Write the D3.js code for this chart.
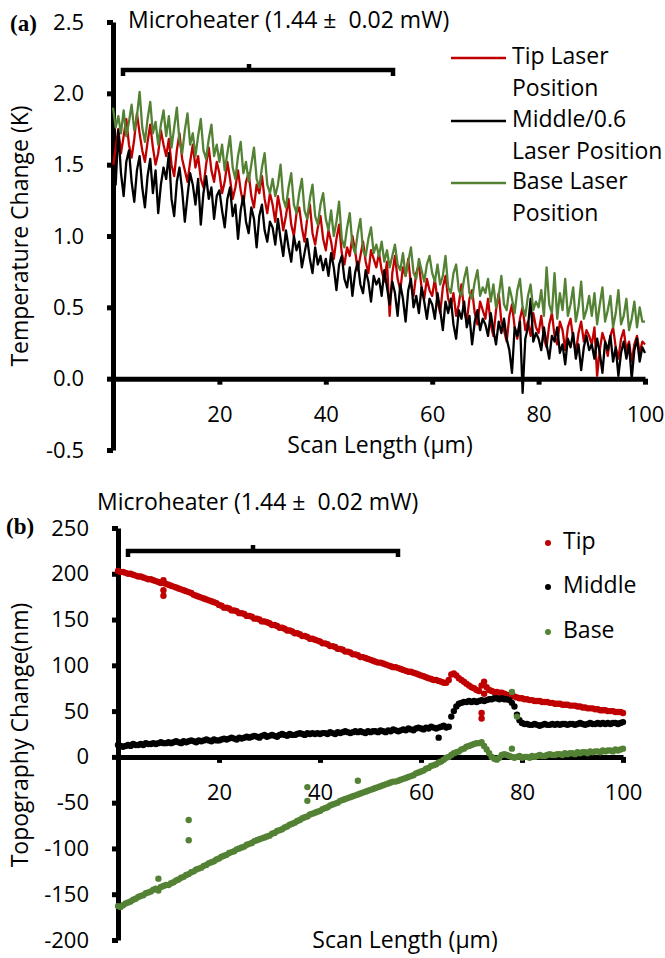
<!DOCTYPE html>
<html lang="en">
<head>
<meta charset="utf-8">
<title>Microheater scan - temperature and topography change</title>
<script src="https://cdn.jsdelivr.net/npm/d3@7"></script>
<style>
  body { margin: 0; background: #fff; }
  svg { font-family: "Open Sans", "Noto Sans", sans-serif; }
  .axis path, .axis line { stroke: #000; stroke-width: 5; }
  .axis text { font-family: "Open Sans", "Noto Sans", sans-serif; font-size: 22px; fill: #000; }
  .label { font-size: 23px; fill: #000; }
  .panel-tag { font-family: "Liberation Serif", "Times New Roman", serif; font-weight: bold; font-size: 23px; }
</style>
</head>
<body>
<div id="container"></div>
<script>
// tick labels
var scanTicks = [20, 40, 60, 80, 100];
var tempTicks = [-0.5, 0, 0.5, 1.0, 1.5, 2.0, 2.5];
var topoTicks = [-200, -150, -100, -50, 0, 50, 100, 150, 200, 250];

// (a) temperature change (K), sampled evenly over 0..100 um
var tipTemp = [
  1.48, 1.62, 1.75, 1.58, 1.70, 1.82, 1.64, 1.55, 1.68, 1.86, 1.72, 1.60, 1.52, 1.66, 1.78, 1.62, 1.50, 1.58, 1.74, 1.64,
  1.56, 1.68, 1.50, 1.42, 1.60, 1.72, 1.54, 1.46, 1.38, 1.52, 1.64, 1.48, 1.56, 1.40, 1.34, 1.50, 1.62, 1.46, 1.38, 1.52,
  1.44, 1.30, 1.38, 1.52, 1.40, 1.26, 1.34, 1.46, 1.32, 1.22, 1.38, 1.44, 1.28, 1.20, 1.36, 1.30, 1.42, 1.26, 1.16, 1.30,
  1.22, 1.10, 1.28, 1.18, 1.04, 1.14, 1.26, 1.08, 1.00, 1.16, 1.20, 1.06, 0.96, 1.12, 1.22, 1.02, 0.94, 1.06, 1.14, 0.98,
  0.90, 1.04, 0.96, 0.84, 0.98, 1.08, 0.88, 0.80, 0.92, 0.86, 1.00, 0.90, 0.76, 0.86, 0.96, 0.82, 0.74, 0.90, 0.84, 0.78,
  0.88, 0.76, 0.68, 0.82, 0.44, 0.74, 0.86, 0.70, 0.62, 0.78, 0.72, 0.84, 0.66, 0.58, 0.74, 0.80, 0.64, 0.56, 0.70, 0.62,
  0.58, 0.70, 0.54, 0.46, 0.64, 0.72, 0.56, 0.50, 0.60, 0.44, 0.52, 0.66, 0.48, 0.40, 0.56, 0.62, 0.46, 0.38, 0.54, 0.48,
  0.42, 0.56, 0.38, 0.30, 0.48, 0.60, 0.40, 0.34, 0.26, 0.44, 0.52, 0.36, 0.28, 0.42, 0.50, 0.34, 0.40, 0.30, 0.46, 0.36,
  0.32, 0.44, 0.28, 0.22, 0.38, 0.46, 0.30, 0.24, 0.40, 0.34, 0.20, 0.36, 0.42, 0.28, 0.18, 0.32, 0.40, 0.26, 0.34, 0.30,
  0.24, 0.36, 0.02, 0.20, 0.32, 0.26, 0.16, 0.30, 0.36, 0.22, 0.14, 0.28, 0.34, 0.20, 0.26, 0.12, 0.24, 0.30, 0.18, 0.26,
  0.24
];
var middleTemp = [
  1.50, 1.36, 1.74, 1.44, 1.28, 1.52, 1.60, 1.38, 1.24, 1.46, 1.56, 1.34, 1.20, 1.42, 1.54, 1.30, 1.46, 1.16, 1.36, 1.48,
  1.40, 1.58, 1.26, 1.14, 1.38, 1.48, 1.32, 1.10, 1.28, 1.44, 1.36, 1.22, 1.40, 1.08, 1.30, 1.42, 1.26, 1.34, 1.12, 1.28,
  1.32, 1.18, 1.06, 1.26, 1.34, 1.14, 1.22, 0.98, 1.18, 1.28, 1.10, 1.02, 1.20, 1.12, 0.92, 1.14, 1.22, 1.04, 0.96, 1.10,
  1.06, 0.94, 1.12, 0.98, 0.86, 1.04, 0.92, 0.82, 1.00, 0.90, 0.96, 0.78, 0.88, 0.98, 0.84, 0.74, 0.92, 0.80, 0.86, 0.76,
  0.84, 0.72, 0.88, 0.78, 0.62, 0.80, 0.86, 0.70, 0.64, 0.78, 0.58, 0.74, 0.82, 0.66, 0.60, 0.76, 0.68, 0.54, 0.72, 0.66,
  0.70, 0.58, 0.76, 0.64, 0.52, 0.68, 0.60, 0.44, 0.66, 0.56, 0.40, 0.62, 0.70, 0.50, 0.58, 0.46, 0.64, 0.54, 0.42, 0.56,
  0.52, 0.42, 0.60, 0.48, 0.34, 0.54, 0.46, 0.56, 0.38, 0.28, 0.48, 0.42, 0.54, 0.36, 0.44, 0.24, 0.40, 0.48, 0.34, 0.42,
  0.38, 0.30, 0.46, 0.34, 0.24, 0.40, 0.32, 0.42, 0.28, 0.20, 0.04, 0.36, 0.30, 0.40, -0.10, 0.28, 0.36, 0.56, 0.26, 0.32,
  0.28, 0.20, 0.36, 0.24, 0.14, 0.30, 0.26, 0.36, 0.18, 0.24, 0.10, 0.28, 0.22, 0.32, 0.14, 0.24, 0.06, 0.22, 0.30, 0.20,
  0.24, 0.14, 0.28, 0.18, 0.04, 0.26, 0.20, 0.30, 0.12, 0.22, 0.02, 0.18, 0.26, 0.14, 0.24, 0.00, 0.20, 0.28, 0.12, 0.22,
  0.18
];
var baseTemp = [
  1.90, 1.76, 1.84, 1.72, 1.88, 1.70, 1.80, 1.92, 1.74, 1.84, 2.01, 1.76, 1.66, 1.82, 1.94, 1.72, 1.80, 1.64, 1.78, 1.88,
  1.70, 1.84, 1.62, 1.76, 1.90, 1.66, 1.58, 1.74, 1.86, 1.64, 1.72, 1.56, 1.70, 1.82, 1.60, 1.54, 1.68, 1.78, 1.56, 1.64,
  1.52, 1.64, 1.46, 1.58, 1.70, 1.48, 1.40, 1.56, 1.66, 1.44, 1.52, 1.38, 1.50, 1.62, 1.40, 1.34, 1.48, 1.58, 1.36, 1.30,
  1.40, 1.28, 1.36, 1.50, 1.26, 1.20, 1.34, 1.44, 1.22, 1.16, 1.30, 1.40, 1.18, 1.12, 1.26, 1.36, 1.14, 1.08, 1.22, 1.30,
  1.12, 1.04, 1.18, 1.00, 1.10, 1.24, 0.98, 0.92, 1.06, 1.16, 0.94, 0.88, 1.02, 1.12, 0.90, 0.86, 0.98, 1.06, 0.88, 0.94,
  0.86, 0.96, 0.82, 0.90, 0.78, 0.86, 0.94, 0.80, 0.76, 0.88, 0.72, 0.82, 0.92, 0.74, 0.70, 0.84, 0.76, 0.68, 0.80, 0.86,
  0.74, 0.68, 0.80, 0.66, 0.72, 0.86, 0.64, 0.60, 0.74, 0.80, 0.62, 0.58, 0.70, 0.78, 0.60, 0.56, 0.68, 0.76, 0.58, 0.64,
  0.60, 0.70, 0.54, 0.66, 0.50, 0.58, 0.72, 0.52, 0.48, 0.64, 0.56, 0.46, 0.62, 0.70, 0.50, 0.44, 0.58, 0.66, 0.48, 0.54,
  0.50, 0.62, 0.44, 0.78, 0.52, 0.46, 0.74, 0.42, 0.60, 0.48, 0.70, 0.44, 0.52, 0.64, 0.40, 0.50, 0.68, 0.42, 0.48, 0.58,
  0.44, 0.60, 0.38, 0.52, 0.64, 0.40, 0.48, 0.58, 0.36, 0.46, 0.62, 0.38, 0.44, 0.56, 0.34, 0.42, 0.54, 0.36, 0.50, 0.40,
  0.40
];

// (b) topography change (nm), sampled evenly over 0..100 um
var tipTopo = [
  203, 202, 202, 201, 200, 200, 199, 198, 197, 197, 196, 195, 194, 194, 193, 192, 191, 190, 190, 189,
  188, 187, 186, 185, 184, 183, 182, 181, 180, 179, 177, 176, 175, 174, 173, 172, 171, 170, 169, 168,
  166, 165, 163, 163, 162, 160, 160, 159, 157, 157, 156, 154, 154, 153, 151, 151, 150, 148, 148, 147,
  146, 144, 144, 143, 141, 141, 140, 138, 138, 137, 135, 135, 134, 132, 132, 131, 129, 129, 128, 127,
  126, 124, 124, 123, 121, 121, 120, 118, 118, 117, 115, 115, 114, 112, 112, 111, 109, 109, 108, 107,
  106, 105, 104, 103, 103, 102, 101, 100, 99, 98, 98, 97, 96, 95, 94, 93, 93, 92, 91, 90,
  89, 88, 87, 86, 85, 84, 84, 83, 82, 81, 81, 84, 90, 91, 89, 86, 84, 82, 80, 78,
  76, 75, 73, 72, 78, 82, 76, 73, 72, 71, 71, 70, 70, 69, 68, 67, 67, 66, 65, 64,
  64, 63, 63, 62, 62, 61, 61, 61, 60, 60, 60, 59, 59, 58, 58, 58, 57, 57, 57, 56,
  56, 56, 55, 55, 54, 54, 53, 53, 53, 52, 52, 51, 51, 51, 50, 50, 50, 49, 49, 49,
  48
];
var middleTopo = [
  13, 12, 11, 12, 13, 12, 14, 13, 13, 14, 13, 15, 14, 14, 15, 14, 15, 16, 15, 15,
  16, 15, 16, 17, 16, 15, 17, 16, 17, 18, 17, 16, 18, 17, 18, 19, 18, 17, 19, 18,
  18, 19, 20, 19, 20, 21, 20, 19, 21, 20, 21, 22, 21, 22, 23, 22, 21, 23, 24, 22,
  23, 24, 23, 22, 24, 25, 24, 23, 25, 24, 24, 25, 26, 25, 24, 26, 25, 26, 25, 26,
  25, 26, 26, 25, 27, 26, 25, 27, 26, 27, 28, 27, 26, 27, 28, 27, 28, 27, 26, 28,
  27, 28, 28, 27, 29, 28, 27, 29, 28, 30, 29, 28, 29, 30, 29, 31, 30, 29, 31, 32,
  31, 30, 32, 31, 33, 32, 31, 32, 33, 34, 32, 33, 44, 50, 55, 58, 59, 60, 60, 61,
  60, 61, 60, 61, 62, 61, 62, 63, 63, 64, 64, 63, 64, 63, 63, 62, 59, 55, 46, 40,
  37, 36, 36, 35, 35, 36, 35, 34, 35, 36, 35, 35, 36, 35, 36, 35, 36, 36, 35, 36,
  36, 35, 36, 37, 36, 35, 36, 37, 36, 36, 37, 36, 37, 36, 37, 36, 37, 37, 36, 37,
  38
];
var baseTopo = [
  -163, -164, -162, -160, -159, -158, -156, -155, -153, -152, -151, -149, -148, -147, -145, -144, -146, -142, -141, -140,
  -140, -138, -137, -135, -134, -132, -131, -129, -128, -126, -125, -123, -122, -121, -119, -118, -116, -115, -114, -112,
  -111, -109, -108, -107, -105, -104, -103, -101, -100, -99, -98, -96, -95, -94, -92, -91, -90, -89, -88, -87,
  -86, -84, -83, -81, -80, -79, -77, -76, -74, -73, -72, -70, -69, -67, -66, -65, -63, -62, -61, -60,
  -59, -57, -56, -55, -53, -52, -51, -50, -48, -47, -46, -45, -44, -43, -42, -41, -40, -39, -38, -37,
  -36, -35, -34, -33, -32, -31, -30, -29, -28, -27, -27, -26, -25, -24, -23, -22, -21, -20, -18, -17,
  -16, -15, -13, -12, -10, -9, -8, -6, -5, -3, -1, 0, 2, 4, 5, 6, 8, 9, 11, 12,
  13, 14, 15, 15, 16, 12, 8, 4, 0, -2, -3, -1, 2, 3, 2, 1, 0, -1, 0, 1,
  -1, 0, 0, -1, 1, 0, 1, 2, 1, 1, 2, 3, 2, 2, 3, 3, 2, 4, 3, 4,
  4, 3, 5, 4, 5, 5, 4, 6, 5, 6, 6, 5, 7, 6, 7, 7, 6, 8, 7, 8,
  9
];
// stray points [scan um, nm]
var tipStray = [[9, 193], [9, 182], [9, 176], [72.5, 69], [72, 48], [72, 42]];
var middleStray = [[63.5, 21]];
var baseStray = [[8, -133], [14, -69], [14, -91], [37.5, -33], [37.5, -48], [47.5, -26], [78, 71], [79, 44], [78, 9]];

var seriesNamesA = ["Tip Laser|Position", "Middle/0.6|Laser Position", "Base Laser|Position"];
var seriesNamesB = ["Tip", "Middle", "Base"];
var colors = ["#c00000", "#000000", "#548235"];

var width = 665, height = 958;

var svg = d3.select("#container")
  .append("svg")
    .attr("width", width)
    .attr("height", height);

function toPoints(vals) {
  return vals.map(function(v, i) { return [i * 100 / (vals.length - 1), v]; });
}

function drawAxes(x, y, ticks, fmt) {
  svg.append("g")
      .attr("class", "axis")
      .attr("transform", "translate(0," + y(0) + ")")
      .call(d3.axisBottom(x).tickValues(scanTicks).tickSize(6).tickSizeOuter(0).tickPadding(22));

  svg.append("g")
      .attr("class", "axis")
      .attr("transform", "translate(" + x(0) + ",0)")
      .call(d3.axisLeft(y).tickValues(ticks).tickSize(6).tickSizeOuter(0).tickPadding(23).tickFormat(fmt));
}

function bracket(x1, x2, xm, yy) {
  svg.append("path")
    .attr("d", "M" + x1 + "," + (yy + 6) + "V" + yy + "H" + x2 + "V" + (yy + 6) + "M" + xm + "," + yy + "V" + (yy - 6))
    .attr("fill", "none")
    .attr("stroke", "#000")
    .attr("stroke-width", 4.5);
}

function text(x, y, s, cls) {
  return svg.append("text")
    .attr("class", cls || "label")
    .attr("x", x).attr("y", y)
    .text(s);
}

// ---------- panel (a) ----------
var xa = d3.scaleLinear().domain([0, 100]).range([113, 645]);
var ya = d3.scaleLinear().domain([-0.5, 2.5]).range([450, 22]);

drawAxes(xa, ya, tempTicks, function(d) { return d.toFixed(1); });

var lineA = d3.line()
  .x(function(d) { return xa(d[0]); })
  .y(function(d) { return ya(d[1]); });

[tipTemp, middleTemp, baseTemp].forEach(function(s, i) {
  svg.append("path")
    .datum(toPoints(s))
    .attr("d", lineA)
    .attr("fill", "none")
    .attr("stroke", colors[i])
    .attr("stroke-width", 2.3)
    .attr("stroke-linejoin", "round");
});

text(10, 31, "(a)", "panel-tag");
text(128, 28, "Microheater (1.44 \u00b1  0.02 mW)").attr("xml:space", "preserve");
bracket(123, 393, 249, 70);

svg.append("text").attr("class", "label")
  .attr("transform", "translate(22,236) rotate(-90)")
  .attr("text-anchor", "middle").attr("dominant-baseline", "middle")
  .text("Temperature Change (K)");
text(380, 447, "Scan Length (\u00b5m)").attr("text-anchor", "middle").attr("dominant-baseline", "middle");

// legend (a)
var legA = [58, 121, 183];
seriesNamesA.forEach(function(n, i) {
  svg.append("line")
    .attr("x1", 451).attr("x2", 506)
    .attr("y1", legA[i]).attr("y2", legA[i])
    .attr("stroke", colors[i]).attr("stroke-width", 2.5);
  n.split("|").forEach(function(part, j) {
    text(512, legA[i] + j * 32, part).attr("dominant-baseline", "middle");
  });
});

// ---------- panel (b) ----------
var xb = d3.scaleLinear().domain([0, 100]).range([118, 623]);
var yb = d3.scaleLinear().domain([-200, 250]).range([940, 528]);

drawAxes(xb, yb, topoTicks, function(d) { return String(d); });

[[tipTopo, tipStray], [middleTopo, middleStray], [baseTopo, baseStray]].forEach(function(s, i) {
  var pts = toPoints(s[0]).concat(s[1]);
  svg.append("g").selectAll("circle")
    .data(pts)
    .enter().append("circle")
      .attr("cx", function(d) { return xb(d[0]); })
      .attr("cy", function(d) { return yb(d[1]); })
      .attr("r", 3.2)
      .attr("fill", colors[i]);
});

text(6, 534, "(b)", "panel-tag");
text(97, 510, "Microheater (1.44 \u00b1  0.02 mW)").attr("xml:space", "preserve");
bracket(128, 398, 253, 551);

svg.append("text").attr("class", "label")
  .attr("transform", "translate(22,735) rotate(-90)")
  .attr("text-anchor", "middle").attr("dominant-baseline", "middle")
  .text("Topography Change(nm)");
text(405, 942, "Scan Length (\u00b5m)").attr("text-anchor", "middle").attr("dominant-baseline", "middle");

// legend (b)
var legB = [543, 587, 632];
seriesNamesB.forEach(function(n, i) {
  svg.append("circle")
    .attr("cx", 548).attr("cy", legB[i]).attr("r", 3)
    .attr("fill", colors[i]);
  text(563, legB[i], n).attr("dominant-baseline", "middle");
});
</script>
</body>
</html>
